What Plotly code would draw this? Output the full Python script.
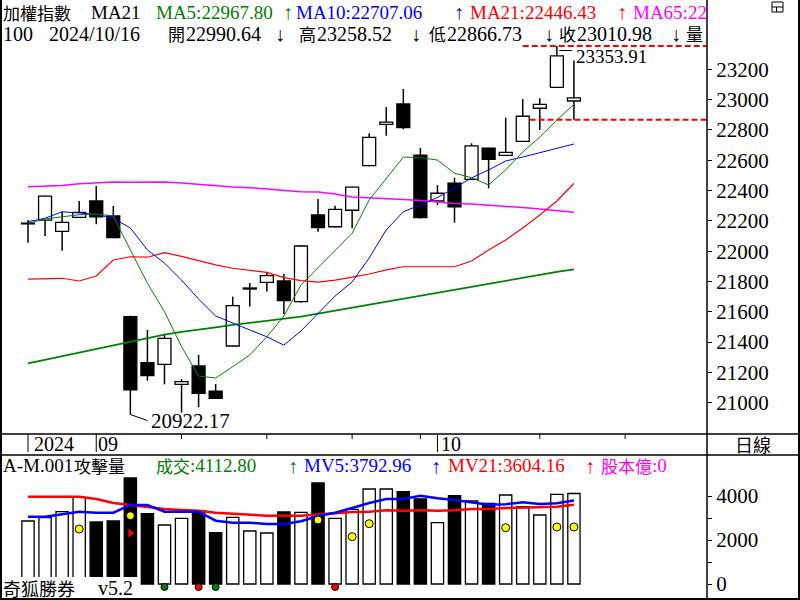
import plotly.graph_objects as go

# ---------------- data ----------------
dates = ["08/27", "08/28", "08/29", "08/30", "09/02", "09/03", "09/04", "09/05", "09/06",
         "09/09", "09/10", "09/11", "09/12", "09/13", "09/16", "09/18", "09/19", "09/20",
         "09/23", "09/24", "09/25", "09/26", "09/27", "09/30", "10/01", "10/04", "10/07",
         "10/08", "10/09", "10/11", "10/14", "10/15", "10/16"]

opens = [22180, 22205, 22131, 22223, 22331, 22232, 21568, 21264, 21253, 21121, 21242, 21077,
         21374, 21750, 21794, 21803, 21667, 22239, 22161, 22270, 22564, 22837, 22971, 22634,
         22331, 22448, 22474, 22679, 22632, 22725, 22943, 23081, 22990.64]
highs = [22205, 22365, 22260, 22331, 22430, 22298, 21575, 21480, 21455, 21156, 21315, 21123,
         21700, 21790, 21856, 21849, 22040, 22344, 22300, 22425, 22778, 22951, 23070, 22680,
         22436, 22485, 22712, 22683, 22881, 23004, 23009, 23353.91, 23258.52]
lows = [22056, 22100, 22003, 22220, 22177, 22085, 20922.17, 21145, 21121, 20935, 20970, 21025,
        21370, 21634, 21733, 21585, 21660, 22128, 22158, 22151, 22560, 22762, 22804, 22215,
        22305, 22188, 22470, 22415, 22630, 22722, 22800, 23078, 22866.73]
closes = [22183, 22363, 22190, 22256, 22227, 22089, 21084, 21178, 21425, 21139, 21062, 21029,
          21640, 21757, 21838, 21673, 22034, 22155, 22276, 22423, 22751, 22852, 22815, 22221,
          22382, 22293, 22694, 22606, 22652, 22890, 22969, 23288, 23010.98]

ma5 = [22184, 22212, 22227, 22240, 22245, 22232, 22008, 21788, 21601, 21370, 21176, 21163,
       21238, 21315, 21435, 21572, 21777, 21889, 22001, 22118, 22338, 22483, 22621, 22617,
       22601, 22514, 22485, 22437, 22536, 22654, 22753, 22865, 22967.80]
ma10 = [22194, 22217, 22260, 22254, 22243, 22217, 22153, 22008, 21921, 21809, 21684, 21572,
        21524, 21480, 21435, 21380, 21473, 21591, 21704, 21797, 21955, 22140, 22260, 22305,
        22354, 22417, 22483, 22536, 22595, 22621, 22648, 22679, 22707.06]
ma21 = [21816, 21818, 21821, 21803, 21836, 21942, 21963, 21960, 21990, 21966, 21936, 21910,
        21887, 21873, 21860, 21825, 21805, 21796, 21809, 21829, 21849, 21876, 21897, 21897,
        21897, 21897, 21935, 22008, 22074, 22153, 22239, 22331, 22446.43]
ma65 = [22425, 22430, 22434, 22445, 22452, 22457, 22455, 22456, 22457, 22450, 22441, 22433,
        22423, 22419, 22410, 22400, 22392, 22391, 22377, 22357, 22350, 22344, 22340, 22334,
        22324, 22314, 22311, 22305, 22298, 22288, 22278, 22267, 22256]
ma_long = [21260, 21284, 21307, 21330, 21354, 21377, 21402, 21426, 21449, 21467, 21480, 21497,
           21513, 21527, 21541, 21555, 21568, 21588, 21608, 21628, 21648, 21667, 21686, 21706,
           21726, 21745, 21765, 21785, 21805, 21826, 21845, 21863, 21880]

volume = [2864, 3016, 3288, 3940, 2819, 2864, 4819, 3198, 2682, 2985, 3334, 2334, 3031, 2410,
          2319, 3273, 3258, 4591, 2985, 3394, 4319, 4319, 4198, 3864, 2788, 4016, 3773, 3667,
          4046, 3516, 3137, 4076, 4112.80]
mv5 = [3060, 3060, 3169, 3287, 3241, 3241, 3591, 3591, 3287, 3287, 3287, 2878, 2787, 2787,
       2728, 2728, 2855, 3091, 3241, 3455, 3682, 3864, 3864, 4014, 3895, 3819, 3714, 3605,
       3623, 3714, 3637, 3669, 3792.96]
mv21 = [3969, 3969, 3969, 3969, 3864, 3682, 3591, 3500, 3410, 3364, 3332, 3241, 3196, 3137,
        3105, 3105, 3105, 3160, 3214, 3273, 3287, 3350, 3332, 3350, 3332, 3350, 3410, 3410,
        3455, 3478, 3487, 3514, 3604.16]

yellow_idx = [3, 6, 17, 19, 20, 28, 31, 32]
yellow_val = [2500, 3105, 2909, 2150, 2741, 2559, 2591, 2591]
green_idx = [8, 11]
red_idx = [10, 18]
flag_idx = [6]
flag_val = [2318]

price_ticks = [21000, 21200, 21400, 21600, 21800, 22000, 22200, 22400, 22600, 22800, 23000, 23200]
vol_ticks = [0, 1000, 2000, 3000, 4000]
vol_ticktext = ["0", "", "2000", "", "4000"]
date_ticks_major = [0, 4, 24]
date_ticks_minor = [9, 14, 19, 23, 30, 35]
date_labels = [("2024", 33), ("09", 97), ("10", 440)]

# ---------------- geometry helpers ----------------
W, H = 800, 600
def PX(x): return x / W
def PY(y): return 1 - y / H

X0, STEP = 28, 17.06
XRANGE = [-X0 / STEP, (707 - X0) / STEP]
PY0, K = 99.6, 0.15155        # pixel of 23000, px per point
PRICE_TOP, PRICE_BOT = 0, 434
PRANGE = [23000 - (PRICE_BOT - PY0) / K, 23000 + (PY0 - PRICE_TOP) / K]
V0, KV = 584, 0.022
VOL_TOP, VOL_BOT = 455, 598
VRANGE = [(V0 - VOL_BOT) / KV, (V0 - VOL_TOP) / KV]

SERIF = "Liberation Serif, serif"
CJK = "Noto Sans CJK TC"
GREEN, BLUE, RED, MAG = "#008000", "#0000ff", "#ff0000", "#ff00ff"
FS = 21

n = len(closes)
idx = list(range(n))
up = [c >= o for o, c in zip(opens, closes)]

fig = go.Figure()

# wicks
wx, wy = [], []
for i in idx:
    top = max(opens[i], closes[i]); bot = min(opens[i], closes[i])
    if highs[i] > top:
        wx += [i, i, None]; wy += [top, highs[i], None]
    if lows[i] < bot:
        wx += [i, i, None]; wy += [bot, lows[i], None]
fig.add_trace(go.Scatter(x=wx, y=wy, mode="lines", line=dict(color="black", width=1.5),
                         hoverinfo="skip"))

# bodies
bases = [min(o, c) for o, c in zip(opens, closes)]
hts = [max(abs(c - o), 5) for o, c in zip(opens, closes)]
fig.add_trace(go.Bar(x=idx, y=hts, base=bases, width=0.76,
                     marker=dict(color=["white" if u else "black" for u in up],
                                 line=dict(color="black", width=1.3)),
                     hoverinfo="skip"))

# moving averages
for arr, col, w in [(ma_long, GREEN, 1.8), (ma65, MAG, 1.5), (ma21, RED, 1.2),
                    (ma10, BLUE, 1.0), (ma5, GREEN, 1.0)]:
    fig.add_trace(go.Scatter(x=idx, y=arr, mode="lines", line=dict(color=col, width=w),
                             hoverinfo="skip"))

# volume
fig.add_trace(go.Bar(x=idx, y=volume, yaxis="y2", width=0.72,
                     marker=dict(color=["white" if u else "black" for u in up],
                                 line=dict(color="black", width=1.3)),
                     hoverinfo="skip"))
fig.add_trace(go.Scatter(x=idx, y=mv21, yaxis="y2", mode="lines",
                         line=dict(color=RED, width=2.5), hoverinfo="skip"))
fig.add_trace(go.Scatter(x=idx, y=mv5, yaxis="y2", mode="lines",
                         line=dict(color=BLUE, width=2.5), hoverinfo="skip"))
fig.add_trace(go.Scatter(x=yellow_idx, y=yellow_val, yaxis="y2", mode="markers",
                         marker=dict(color="#ffff00", size=8, line=dict(color="black", width=1)),
                         hoverinfo="skip"))
fig.add_trace(go.Scatter(x=green_idx, y=[-136] * len(green_idx), yaxis="y2", mode="markers",
                         marker=dict(color=GREEN, size=7, line=dict(color="black", width=1)),
                         hoverinfo="skip"))
fig.add_trace(go.Scatter(x=red_idx, y=[-136] * len(red_idx), yaxis="y2", mode="markers",
                         marker=dict(color=RED, size=7, line=dict(color="black", width=1)),
                         hoverinfo="skip"))
fig.add_trace(go.Scatter(x=flag_idx, y=flag_val, yaxis="y2", mode="markers",
                         marker=dict(color=RED, size=8, symbol="triangle-right"),
                         hoverinfo="skip"))

shapes = []
def pline(x0, y0, x1, y1, w=1.5, color="black"):
    shapes.append(dict(type="line", xref="paper", yref="paper", x0=PX(x0), y0=PY(y0),
                       x1=PX(x1), y1=PY(y1), line=dict(color=color, width=w), layer="above"))

# high/low reference lines
hi = max(highs); lo_last = lows[-1]
shapes.append(dict(type="line", xref="x", yref="y", x0=29.0, x1=XRANGE[1], y0=hi, y1=hi,
                   line=dict(color=RED, width=2, dash="6px,3px"), layer="above"))
shapes.append(dict(type="line", xref="x", yref="y", x0=29.4, x1=XRANGE[1], y0=lo_last, y1=lo_last,
                   line=dict(color=RED, width=2, dash="6px,3px"), layer="above"))
# leader lines
ih = highs.index(hi); il = lows.index(min(lows))
shapes.append(dict(type="line", xref="x", yref="y", x0=ih + 0.15, x1=ih + 0.9,
                   y0=hi - 30, y1=hi - 30, line=dict(color="black", width=1), layer="above"))
shapes.append(dict(type="line", xref="x", yref="y", x0=il, x1=il + 1.0,
                   y0=min(lows), y1=min(lows) - 40, line=dict(color="black", width=1), layer="above"))

# white box behind footer text
shapes.append(dict(type="rect", xref="paper", yref="paper", x0=PX(2), x1=PX(139), y0=PY(597),
                   y1=PY(577), fillcolor="white", line=dict(width=0), layer="above"))

# frame lines
pline(1, 0, 1, 600, 2)
pline(707, 0, 707, 600, 1.5)
pline(799, 0, 799, 600, 2)
pline(0, 599, 800, 599, 2)
pline(0, 434, 800, 434, 1.5)
pline(0, 455, 800, 455, 1.5)

# date ticks
for t in date_ticks_major:
    shapes.append(dict(type="line", xref="x", yref="paper", x0=t, x1=t, y0=PY(434), y1=PY(452),
                       line=dict(color="black", width=1), layer="above"))
for t in date_ticks_minor:
    shapes.append(dict(type="line", xref="x", yref="paper", x0=t, x1=t, y0=PY(434), y1=PY(439),
                       line=dict(color="black", width=1), layer="above"))

# top-right icon
shapes.append(dict(type="rect", xref="paper", yref="paper", x0=PX(772), x1=PX(783), y0=PY(12),
                   y1=PY(2), line=dict(color="black", width=1), fillcolor="white", layer="above"))
pline(772, 7, 783, 7, 1)
pline(776.5, 7, 776.5, 12, 1)

ann = []
def txt(x, y, s, color="black", size=20, anchor="left", family=SERIF):
    ann.append(dict(xref="paper", yref="paper", x=PX(x), y=PY(y), text=s, showarrow=False,
                    xanchor=anchor, yanchor="middle",
                    font=dict(family=family, size=size, color=color), borderpad=0))

def cjk(x, y, s, color="black", size=17, anchor="left"):
    txt(x, y, s, color, size=size, anchor=anchor, family=CJK)

def arrow(xc, y, s, color="black"):
    txt(xc, y, s, color, size=20, anchor="center")

L1, L2, LV, LD = 12, 34, 466, 444
# header line 1
cjk(2, L1, "加權指數")
txt(90, L1, "MA21", size=19)
txt(155, L1, f"MA5:{ma5[-1]:.2f}", GREEN, size=19)
arrow(288, L1, "↑", GREEN)
txt(295, L1, f"MA10:{ma10[-1]:.2f}", BLUE, size=19)
arrow(459, L1, "↑", BLUE)
txt(469, L1, f"MA21:{ma21[-1]:.2f}", RED, size=19)
arrow(622, L1, "↑", RED)
txt(632, L1, "MA65:22", MAG, size=19)
# header line 2
txt(2, L2, "100")
txt(48, L2, "2024/10/16")
cjk(167, L2, "開"); txt(185, L2, f"{opens[-1]:.2f}")
arrow(280, L2, "↓")
cjk(298, L2, "高"); txt(316, L2, f"{highs[-1]:.2f}")
arrow(416, L2, "↓")
cjk(428, L2, "低"); txt(446, L2, f"{lows[-1]:.2f}")
arrow(549, L2, "↓")
cjk(558, L2, "收"); txt(576, L2, f"{closes[-1]:.2f}")
arrow(676, L2, "↓")
cjk(685, L2, "量")
# volume header
txt(2, LV, "A-M.001", size=19)
cjk(73, LV, "攻擊量")
cjk(155, LV, "成交", GREEN); txt(189, LV, f":{volume[-1]:.2f}", GREEN, size=19)
arrow(293, LV, "↑", GREEN)
txt(303, LV, f"MV5:{mv5[-1]:.2f}", BLUE, size=19)
arrow(436, LV, "↑", BLUE)
txt(447, LV, f"MV21:{mv21[-1]:.2f}", RED, size=19)
arrow(590, LV, "↑", RED)
cjk(600, LV, "股本億", MAG); txt(651, LV, ":0", MAG, size=19)
# date labels
for s, x in date_labels:
    txt(x, LD, s)
cjk(753, LD, "日線", size=18, anchor="center")
cjk(2, 588, "奇狐勝券", size=18)
txt(97, 588, "v5.2")

# price extreme labels
ann.append(dict(xref="x", yref="y", x=ih + 1.0, y=23000 + (PY0 - 56) / K, text=f"{hi:.2f}",
                showarrow=False, xanchor="left", yanchor="middle",
                font=dict(family=SERIF, size=19, color="black")))
ann.append(dict(xref="x", yref="y", x=il + 1.1, y=min(lows) - 40, text=f"{min(lows):.2f}",
                showarrow=False, xanchor="left", yanchor="middle",
                font=dict(family=SERIF, size=FS, color="black")))

fig.update_layout(
    width=W, height=H, autosize=False, margin=dict(l=0, r=0, t=0, b=0),
    paper_bgcolor="white", plot_bgcolor="white", showlegend=False, hovermode=False,
    barmode="overlay",
    xaxis=dict(domain=[0, 707 / W], range=XRANGE, visible=False, fixedrange=True),
    yaxis=dict(domain=[PY(PRICE_BOT), PY(PRICE_TOP)], range=PRANGE, side="right", anchor="x",
               tickvals=price_ticks, tickformat="d", ticks="outside", ticklen=4, tickcolor="black",
               showgrid=False, zeroline=False, showline=False,
               tickfont=dict(family=SERIF, size=FS, color="black")),
    yaxis2=dict(domain=[PY(VOL_BOT), PY(VOL_TOP)], range=VRANGE, side="right", anchor="x",
                tickvals=vol_ticks, ticktext=vol_ticktext, ticks="outside", ticklen=4,
                tickcolor="black", showgrid=False, zeroline=False, showline=False,
                tickfont=dict(family=SERIF, size=FS, color="black")),
    shapes=shapes, annotations=ann,
)

fig.write_html("out.html")
